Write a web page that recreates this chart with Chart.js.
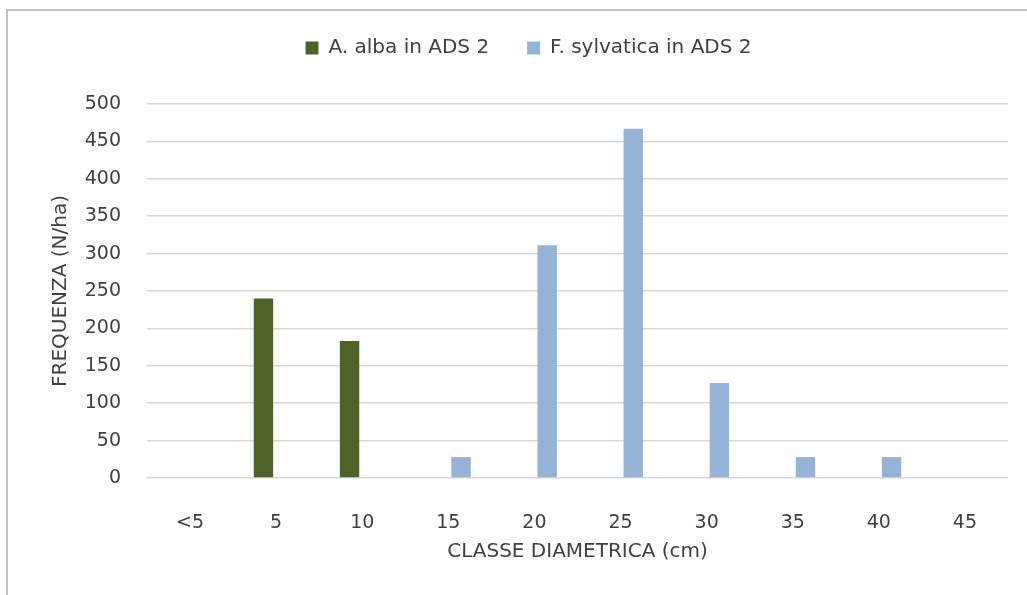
<!DOCTYPE html>
<html>
<head>
<meta charset="utf-8">
<style>
  html, body { margin: 0; padding: 0; background: #ffffff; }
  #wrap { width: 1027px; height: 595px; position: relative; }
</style>
<script src="https://cdn.jsdelivr.net/npm/chart.js@4/dist/chart.umd.min.js"></script>
</head>
<body>
<div id="wrap"><canvas id="chart" width="1027" height="595"></canvas></div>
<script>
// Diameter classes (cm)
const categories = ['<5', '5', '10', '15', '20', '25', '30', '35', '40', '45'];

// Stem density per class (N/ha)
const albaValues = [0, 240, 183, 0, 0, 0, 0, 0, 0, 0];
const sylvaticaValues = [0, 0, 0, 28, 311, 467, 127, 28, 28, 0];

const seriesNames = ['A. alba in ADS 2', 'F. sylvatica in ADS 2'];
const yTicks = [0, 50, 100, 150, 200, 250, 300, 350, 400, 450, 500];

const textColor = '#404040';
const fontFamily = '"DejaVu Sans", sans-serif';

// Light frame along the top and left edges of the figure
const framePlugin = {
  id: 'frame',
  beforeDraw(chart) {
    const ctx = chart.ctx;
    ctx.save();
    ctx.strokeStyle = '#c0c0c0';
    ctx.lineWidth = 2;
    ctx.beginPath();
    ctx.moveTo(7, 595);
    ctx.lineTo(7, 10);
    ctx.lineTo(1027, 10);
    ctx.stroke();
    ctx.restore();
  }
};

// Extra room between the legend and the plot area
const legendGapPlugin = {
  id: 'legendGap',
  beforeInit(chart) {
    const legend = chart.legend;
    if (!legend) return;
    const fit = legend.fit;
    legend.fit = function () {
      fit.call(this);
      this.height += 36;
    };
  }
};

new Chart(document.getElementById('chart'), {
  type: 'bar',
  data: {
    labels: categories,
    datasets: [
      {
        label: seriesNames[0],
        data: albaValues,
        backgroundColor: '#4f6228',
        borderWidth: 0,
        categoryPercentage: 0.59,
        barPercentage: 0.765
      },
      {
        label: seriesNames[1],
        data: sylvaticaValues,
        backgroundColor: '#95b3d7',
        borderWidth: 0,
        categoryPercentage: 0.59,
        barPercentage: 0.765
      }
    ]
  },
  options: {
    responsive: false,
    animation: false,
    devicePixelRatio: 1,
    layout: { padding: { left: 49, right: 19, top: 0, bottom: 0 } },
    plugins: {
      legend: {
        position: 'top',
        align: 'center',
        labels: {
          boxWidth: 13,
          boxHeight: 13,
          padding: 38,
          color: textColor,
          font: { family: fontFamily, size: 20 }
        }
      },
      tooltip: { enabled: false }
    },
    scales: {
      x: {
        offset: true,
        grid: { display: false },
        border: { display: false },
        ticks: {
          color: textColor,
          font: { family: fontFamily, size: 19 },
          padding: 26,
          maxRotation: 0
        },
        title: {
          display: true,
          text: 'CLASSE DIAMETRICA (cm)',
          color: textColor,
          font: { family: fontFamily, size: 20 },
          padding: { top: 0, bottom: 31 }
        },
        afterFit(scale) { scale.height = 117; }
      },
      y: {
        min: 0,
        max: 500,
        afterBuildTicks(scale) { scale.ticks = yTicks.map(v => ({ value: v })); },
        grid: { color: '#d9d9d9', lineWidth: 1.6, drawTicks: false },
        border: { display: false },
        ticks: {
          color: textColor,
          font: { family: fontFamily, size: 19 },
          padding: 26
        },
        title: {
          display: true,
          text: 'FREQUENZA (N/ha)',
          color: textColor,
          font: { family: fontFamily, size: 20 },
          padding: { top: 0, bottom: 0 }
        },
        afterFit(scale) { scale.width = 98; }
      }
    }
  },
  plugins: [framePlugin, legendGapPlugin]
});
</script>
</body>
</html>
